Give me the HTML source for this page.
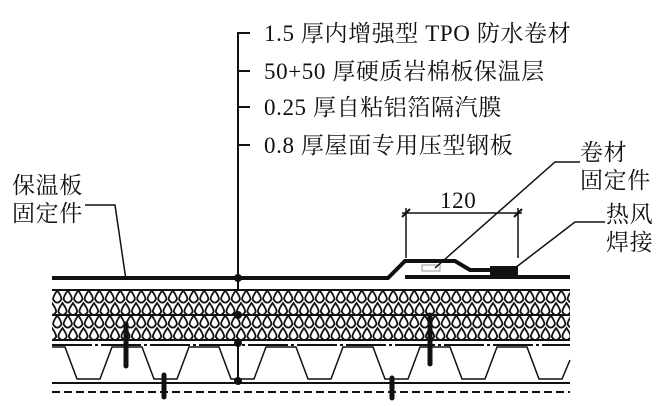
<!DOCTYPE html><html><head><style>body{margin:0;background:#fff}svg{display:block}
text{font-family:"Liberation Serif","Noto Serif CJK SC",serif;font-size:23px;fill:#111;letter-spacing:0.6px}</style></head><body>
<svg width="672" height="406" viewBox="0 0 672 406">
<defs>
<pattern id="ins" x="52" y="290" width="10.5" height="25" patternUnits="userSpaceOnUse">
<rect width="10.5" height="25" fill="#fff"/>
<g fill="none" stroke="#111" stroke-width="1.8">
<path id="d" d="M5.25 0.5 Q0.6 7 1.2 9.5 Q3 12.6 5.25 12.6 Q7.5 12.6 9.3 9.5 Q9.9 7 5.25 0.5Z"/>
<path d="M0 13 Q-4.65 19.5 -4.05 22 Q-2.25 25 0 25 Q2.25 25 4.05 22 Q4.65 19.5 0 13Z"/>
<path d="M10.5 13 Q5.85 19.5 6.45 22 Q8.25 25 10.5 25 Q12.75 25 14.55 22 Q15.15 19.5 10.5 13Z"/>
</g>
</pattern>
</defs>
<g stroke="#111" fill="none">
<path d="M250 33H238V381" stroke-width="2"/>
<path d="M238 71H250M238 107H250M238 145H250" stroke-width="2"/>
<path d="M52 278H388L405 261H455L470 270H490" stroke-width="4"/>
<path d="M405 277H570" stroke-width="4"/>
<rect x="490" y="266" width="28" height="11" fill="#111" stroke="none"/>
<rect x="52" y="290" width="518" height="50" fill="url(#ins)" stroke="none"/>
<path d="M52 290H570M52 315H570M52 340H570" stroke-width="2"/>
<path d="M52 345H570" stroke-width="2" stroke-dasharray="40 3 3 3"/>
<path d="M52 347H65L77 379H100L112 347H142L154 379H177L189 347H219L231 379H254L266 347H296L308 379H331L343 347H373L385 379H408L420 347H450L462 379H485L497 347H527L539 379H562L570 360" stroke-width="1.5"/>
<path d="M52 383H570" stroke-width="2"/>
<path d="M52 392H570" stroke-width="2" stroke-dasharray="8 4"/>
<path d="M126 324V366M164 375V397M430 315V364M392 378V398" stroke-width="5" stroke-linecap="round"/>
<rect x="422" y="265" width="18" height="6" stroke="#999" stroke-width="1"/>
<g fill="#111" stroke="none"><circle cx="238" cy="278" r="4"/><circle cx="238" cy="315" r="4"/><circle cx="238" cy="343" r="4"/><circle cx="238" cy="381" r="4"/></g>
<path d="M406 208V258M518 208V258M402 213H522" stroke-width="1.5"/>
<path d="M402 217L410 209M514 217L522 209" stroke-width="2"/>
<path d="M85 205H115L126 280" stroke-width="1.5"/>
<path d="M580 162H555L435 268" stroke-width="1.5"/>
<path d="M605 222H575L515 268" stroke-width="1.5"/>
</g>
<text x="264" y="41">1.5 厚内增强型 TPO 防水卷材</text>
<text x="264" y="79">50+50 厚硬质岩棉板保温层</text>
<text x="264" y="115">0.25 厚自粘铝箔隔汽膜</text>
<text x="264" y="153">0.8 厚屋面专用压型钢板</text>
<text x="12" y="193">保温板</text>
<text x="12" y="221">固定件</text>
<text x="580" y="160">卷材</text>
<text x="580" y="188">固定件</text>
<text x="606" y="222">热风</text>
<text x="606" y="250">焊接</text>
<text x="440" y="208">120</text>
</svg></body></html>
